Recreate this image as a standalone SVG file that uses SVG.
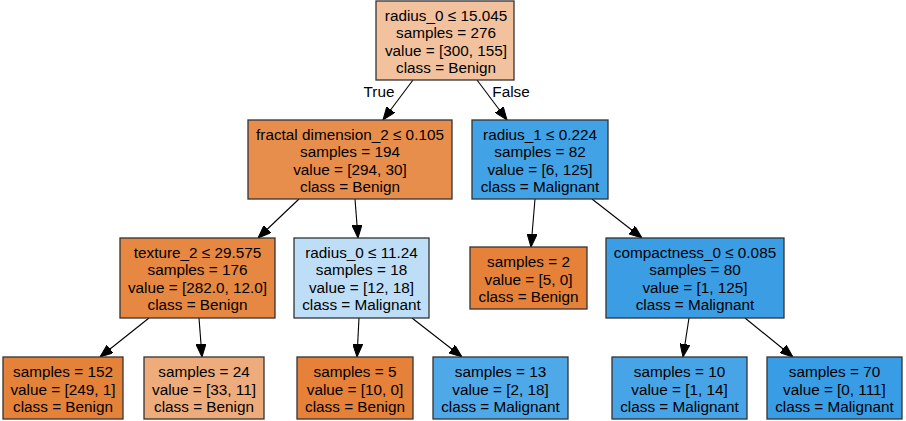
<svg xmlns="http://www.w3.org/2000/svg" width="906" height="421" viewBox="0 0 906 421">
<style>
.n rect{stroke:#333;stroke-width:1.3}
text{font-family:"Liberation Sans",Arial,sans-serif;font-size:15.3px;fill:#000;text-anchor:middle}
.e{stroke:#000;stroke-width:1.1;fill:none}
</style>
<defs>
<marker id="ah" viewBox="0 0 13 10" refX="13" refY="5" markerWidth="13" markerHeight="10" orient="auto" markerUnits="userSpaceOnUse">
<path d="M0,0 L13,5 L0,10 z" fill="#000" stroke="#000"/>
</marker>
</defs>
<rect x="0" y="0" width="906" height="421" fill="#fff"/>
<g id="edges">
<line class="e" x1="413" y1="80" x2="383" y2="120" marker-end="url(#ah)"/>
<line class="e" x1="477" y1="80" x2="507" y2="120" marker-end="url(#ah)"/>
<line class="e" x1="299" y1="199" x2="258" y2="238" marker-end="url(#ah)"/>
<line class="e" x1="355" y1="199" x2="358" y2="238" marker-end="url(#ah)"/>
<line class="e" x1="535" y1="199" x2="531" y2="247" marker-end="url(#ah)"/>
<line class="e" x1="592" y1="199" x2="642" y2="238" marker-end="url(#ah)"/>
<line class="e" x1="149" y1="318" x2="100" y2="357" marker-end="url(#ah)"/>
<line class="e" x1="199" y1="318" x2="202" y2="357" marker-end="url(#ah)"/>
<line class="e" x1="359" y1="318" x2="357" y2="357" marker-end="url(#ah)"/>
<line class="e" x1="412" y1="318" x2="462" y2="357" marker-end="url(#ah)"/>
<line class="e" x1="689" y1="318" x2="683" y2="357" marker-end="url(#ah)"/>
<line class="e" x1="745" y1="318" x2="793" y2="357" marker-end="url(#ah)"/>
<text x="379" y="97">True</text>
<text x="511" y="97">False</text>
</g>
<g id="n0" class="n">
<rect x="376" y="1" width="138" height="79" fill="#f2c29f"/>
<text x="446" y="20.5">radius_0 ≤ 15.045</text>
<text x="446" y="38">samples = 276</text>
<text x="446" y="55.5">value = [300, 155]</text>
<text x="446" y="73">class = Benign</text>
</g>
<g id="n1" class="n">
<rect x="248" y="120" width="204" height="79" fill="#e88e4d"/>
<text x="350" y="139.5">fractal dimension_2 ≤ 0.105</text>
<text x="350" y="157">samples = 194</text>
<text x="350" y="174.5">value = [294, 30]</text>
<text x="350" y="192">class = Benign</text>
</g>
<g id="n2" class="n">
<rect x="120" y="238" width="155" height="80" fill="#e68742"/>
<text x="197.5" y="257.5">texture_2 ≤ 29.575</text>
<text x="197.5" y="275">samples = 176</text>
<text x="197.5" y="292.5">value = [282.0, 12.0]</text>
<text x="197.5" y="310">class = Benign</text>
</g>
<g id="n3" class="n">
<rect x="3" y="357" width="120" height="62" fill="#e5823a"/>
<text x="63" y="377">samples = 152</text>
<text x="63" y="394.5">value = [249, 1]</text>
<text x="63" y="412">class = Benign</text>
</g>
<g id="n4" class="n">
<rect x="144" y="357" width="120" height="62" fill="#eeab7b"/>
<text x="204" y="377">samples = 24</text>
<text x="204" y="394.5">value = [33, 11]</text>
<text x="204" y="412">class = Benign</text>
</g>
<g id="n5" class="n">
<rect x="294" y="238" width="135" height="80" fill="#bddef6"/>
<text x="361.5" y="257.5">radius_0 ≤ 11.24</text>
<text x="361.5" y="275">samples = 18</text>
<text x="361.5" y="292.5">value = [12, 18]</text>
<text x="361.5" y="310">class = Malignant</text>
</g>
<g id="n6" class="n">
<rect x="297" y="357" width="116" height="62" fill="#e58139"/>
<text x="355" y="377">samples = 5</text>
<text x="355" y="394.5">value = [10, 0]</text>
<text x="355" y="412">class = Benign</text>
</g>
<g id="n7" class="n">
<rect x="433" y="357" width="135" height="62" fill="#4fa8e8"/>
<text x="500.5" y="377">samples = 13</text>
<text x="500.5" y="394.5">value = [2, 18]</text>
<text x="500.5" y="412">class = Malignant</text>
</g>
<g id="n8" class="n">
<rect x="472" y="120" width="136" height="79" fill="#42a2e6"/>
<text x="540" y="139.5">radius_1 ≤ 0.224</text>
<text x="540" y="157">samples = 82</text>
<text x="540" y="174.5">value = [6, 125]</text>
<text x="540" y="192">class = Malignant</text>
</g>
<g id="n9" class="n">
<rect x="470" y="247" width="117" height="62" fill="#e58139"/>
<text x="528.5" y="267">samples = 2</text>
<text x="528.5" y="284.5">value = [5, 0]</text>
<text x="528.5" y="302">class = Benign</text>
</g>
<g id="n10" class="n">
<rect x="606" y="238" width="178" height="80" fill="#3b9ee5"/>
<text x="695" y="257.5">compactness_0 ≤ 0.085</text>
<text x="695" y="275">samples = 80</text>
<text x="695" y="292.5">value = [1, 125]</text>
<text x="695" y="310">class = Malignant</text>
</g>
<g id="n11" class="n">
<rect x="612" y="357" width="135" height="62" fill="#47a4e7"/>
<text x="679.5" y="377">samples = 10</text>
<text x="679.5" y="394.5">value = [1, 14]</text>
<text x="679.5" y="412">class = Malignant</text>
</g>
<g id="n12" class="n">
<rect x="767" y="357" width="135" height="62" fill="#399de5"/>
<text x="834.5" y="377">samples = 70</text>
<text x="834.5" y="394.5">value = [0, 111]</text>
<text x="834.5" y="412">class = Malignant</text>
</g>
</svg>
